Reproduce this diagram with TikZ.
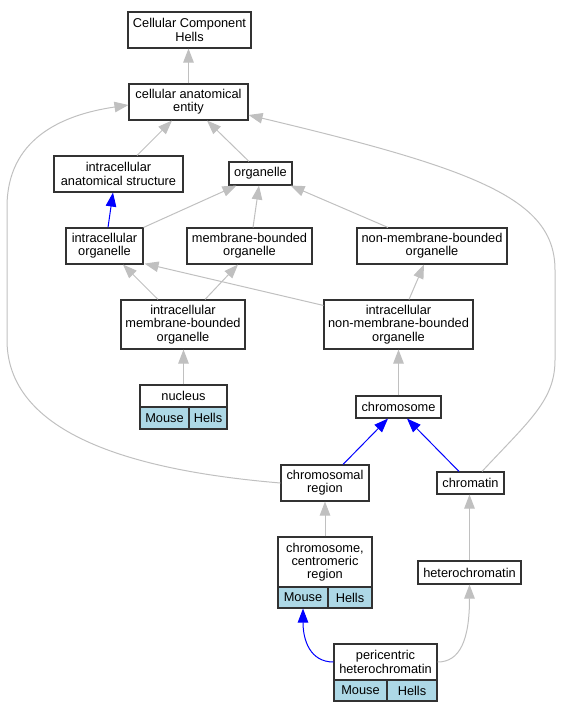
\documentclass[tikz,border=0pt]{standalone}
\usepackage{fontspec}
\setmainfont{Liberation Sans}
\usetikzlibrary{arrows.meta,calc}
\definecolor{edgegray}{RGB}{192,192,192}
\definecolor{cellblue}{RGB}{173,216,230}
\definecolor{boxline}{RGB}{50,50,50}
\begin{document}
\begin{tikzpicture}[x=1pt,y=-1pt,
  box/.style={draw=boxline,line width=1.1pt,fill=white,inner sep=0pt,align=center,
    font=\fontsize{12.8}{13.2}\selectfont},
  cell/.style={box,fill=cellblue},
  isa/.style={draw=edgegray,line width=1pt,-{Triangle[length=14pt,width=10.5pt]}},
  partof/.style={draw=blue,line width=1pt,-{Triangle[length=14pt,width=10.5pt]}}]
\useasboundingbox (0,0) rectangle (560,712);
% nodes
\node[box,minimum width=123pt,minimum height=36pt] (cch) at (189.5,30) {Cellular Component\\Hells};
\node[box,minimum width=119pt,minimum height=36pt] (cae) at (188.5,102) {cellular anatomical\\entity};
\node[box,minimum width=129pt,minimum height=36pt] (ias) at (118.5,174) {intracellular\\anatomical structure};
\node[box,minimum width=63pt,minimum height=23pt] (org) at (260.5,173.5) {organelle};
\node[box,minimum width=77pt,minimum height=36pt] (io) at (104.5,246) {intracellular\\organelle};
\node[box,minimum width=125pt,minimum height=36pt] (mbo) at (249.5,246) {membrane-bounded\\organelle};
\node[box,minimum width=150pt,minimum height=36pt] (nmbo) at (432,246) {non-membrane-bounded\\organelle};
\node[box,minimum width=124pt,minimum height=49pt] (imbo) at (183,324.5) {intracellular\\membrane-bounded\\organelle};
\node[box,minimum width=149pt,minimum height=49pt] (inmbo) at (398.5,324.5) {intracellular\\non-membrane-bounded\\organelle};
\node[box,minimum width=87pt,minimum height=22pt] (nuc) at (183.5,396) {nucleus};
\node[cell,minimum width=49pt,minimum height=22pt] (nucm) at (164.5,418) {Mouse};
\node[cell,minimum width=38pt,minimum height=22pt] (nuch) at (208,418) {Hells};
\node[box,minimum width=85pt,minimum height=22pt] (chrom) at (398.5,407) {chromosome};
\node[box,minimum width=88pt,minimum height=36pt] (creg) at (325,483) {chromosomal\\region};
\node[box,minimum width=67pt,minimum height=22pt] (chtin) at (470.5,483) {chromatin};
\node[box,minimum width=94pt,minimum height=50pt] (ccr) at (325,562) {chromosome,\\centromeric\\region};
\node[cell,minimum width=50pt,minimum height=21pt] (ccrm) at (303,597.5) {Mouse};
\node[cell,minimum width=44pt,minimum height=21pt] (ccrh) at (350,597.5) {Hells};
\node[box,minimum width=103pt,minimum height=23pt] (het) at (469.5,572.5) {heterochromatin};
\node[box,minimum width=103pt,minimum height=36pt] (ph) at (385.5,662) {pericentric\\heterochromatin};
\node[cell,minimum width=53pt,minimum height=21pt] (phm) at (360.5,690.5) {Mouse};
\node[cell,minimum width=50pt,minimum height=21pt] (phh) at (412,690.5) {Hells};
% edges
\draw[isa] (cae.north) -- (cae.north |- cch.south);
\draw[isa] ([xshift=18.5pt]ias.north) -- ([xshift=-16.5pt]cae.south);
\draw[isa] ([xshift=-11.5pt]org.north) -- ([xshift=18.5pt]cae.south);
\draw[isa] (creg.west) .. controls (150,472) and (7,440) .. (7,340) -- (7,207)
  .. controls (7,140) and (60,115) .. ([yshift=-3pt]cae.west);
\draw[isa] ([xshift=11.5pt]chtin.north) .. controls (530,420) and (555,400) .. (555,360) -- (555,270)
  .. controls (555,200) and (480,170) .. ([yshift=-13pt]cae.east);
\draw[isa] (io.north east) -- ([xshift=8pt]org.south west);
\draw[isa] ([xshift=3.5pt]mbo.north) -- ([xshift=-1.5pt]org.south);
\draw[isa] ([xshift=-44pt]nmbo.north) -- ([xshift=-2pt]org.south east);
\draw[partof] ([xshift=3.5pt]io.north) -- ([xshift=-5.5pt]ias.south);
\draw[isa] ([xshift=-25pt]imbo.north) -- ([xshift=18.5pt]io.south);
\draw[isa] ([xshift=22pt]imbo.north) -- ([xshift=-11.5pt]mbo.south);
\draw[isa] ([yshift=-6pt]inmbo.north west) -- ([xshift=1pt,yshift=1pt]io.south east);
\draw[isa] ([xshift=10.5pt]inmbo.north) -- ([xshift=-8pt]nmbo.south);
\draw[isa] (nuc.north) -- (nuc.north |- imbo.south);
\draw[isa] (chrom.north) -- (chrom.north |- inmbo.south);
\draw[partof] ([xshift=18pt]creg.north) -- ([xshift=-10.5pt]chrom.south);
\draw[partof] ([xshift=-11.5pt]chtin.north) -- ([xshift=8.5pt]chrom.south);
\draw[isa] (ccr.north) -- (ccr.north |- creg.south);
\draw[isa] (het.north) -- (het.north |- chtin.south);
\draw[partof] (ph.west) .. controls (310,662) and (303,640) .. (ccrm.south);
\draw[isa] (ph.east) .. controls (460,662) and (469.5,640) .. (het.south);
\end{tikzpicture}
\end{document}
